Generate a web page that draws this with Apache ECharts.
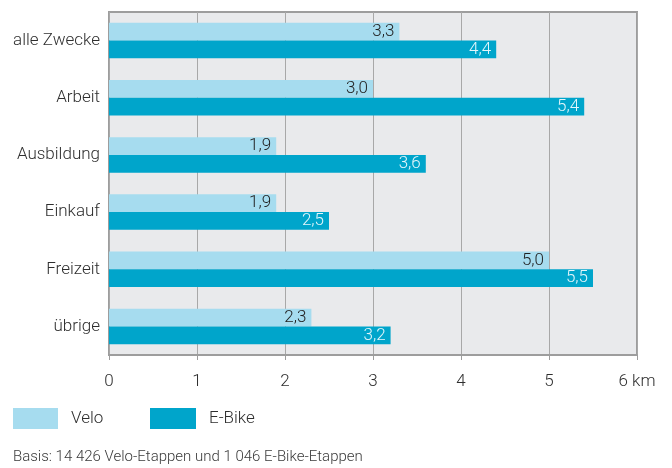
<!DOCTYPE html>
<html>
<head>
<meta charset="utf-8">
<style>
  html, body { margin: 0; padding: 0; background: #ffffff; }
  #chart { width: 672px; height: 468px; }
</style>
<script src="https://cdn.jsdelivr.net/npm/echarts@6/dist/echarts.min.js"></script>
</head>
<body>
<div id="chart"></div>
<script>
// Durchschnittliche Etappenlänge nach Zweck (km)
const categories = ['alle Zwecke', 'Arbeit', 'Ausbildung', 'Einkauf', 'Freizeit', 'übrige'];
const veloValues = [3.3, 3.0, 1.9, 1.9, 5.0, 2.3];
const ebikeValues = [4.4, 5.4, 3.6, 2.5, 5.5, 3.2];
const xTicks = [0, 1, 2, 3, 4, 5, 6];
const seriesNames = ['Velo', 'E-Bike'];
const footnote = 'Basis: 14 426 Velo-Etappen und 1 046 E-Bike-Etappen';

const FONT = 'Roboto, "Noto Sans", sans-serif';
const W = 300;
const TEXT = '#2e2e2e';
const VELO = '#a6dcef';
const EBIKE = '#00a5cb';

const fmt = v => v.toFixed(1).replace('.', ',');

const chart = echarts.init(document.getElementById('chart'), null, { renderer: 'canvas' });

const legendText = { fontFamily: FONT, fontWeight: W, fontSize: 17, color: TEXT, padding: [0, 0, 0, 8] };

chart.setOption({
  animation: false,
  textStyle: { fontFamily: FONT },
  grid: {
    left: 109, top: 12, right: 35, bottom: 113,
    show: true,
    backgroundColor: '#e9eaec',
    borderColor: '#9d9d9d',
    borderWidth: 2
  },
  legend: [
    {
      data: [seriesNames[0]],
      left: 13, top: 408, padding: 0,
      itemWidth: 45, itemHeight: 21,
      icon: 'rect',
      textStyle: legendText
    },
    {
      data: [seriesNames[1]],
      left: 150, top: 408, padding: 0,
      itemWidth: 46, itemHeight: 21,
      icon: 'rect',
      textStyle: legendText
    }
  ],
  xAxis: {
    type: 'value',
    min: xTicks[0],
    max: xTicks[xTicks.length - 1],
    interval: 1,
    axisLine: { show: true, lineStyle: { color: '#9d9d9d', width: 2 } },
    axisTick: { show: true, length: 5, lineStyle: { color: '#9d9d9d', width: 1 } },
    splitLine: { show: true, lineStyle: { color: '#a8a8a8', width: 1 } },
    axisLabel: {
      margin: 18,
      fontFamily: FONT,
      fontWeight: W,
      fontSize: 17,
      color: TEXT,
      formatter: v => (v === xTicks[xTicks.length - 1] ? v + ' km' : String(v))
    }
  },
  yAxis: {
    type: 'category',
    data: categories,
    inverse: true,
    axisLine: { show: false },
    axisTick: { show: false },
    splitLine: { show: false },
    axisLabel: { margin: 9, fontFamily: FONT, fontWeight: W, fontSize: 17, color: TEXT }
  },
  series: [
    {
      name: seriesNames[0],
      type: 'bar',
      data: veloValues,
      itemStyle: { color: VELO },
      barGap: '0%',
      barCategoryGap: '38%',
      label: {
        show: true,
        position: 'insideRight',
        distance: 5,
        fontFamily: FONT,
        fontWeight: W,
        fontSize: 17,
        color: '#222222',
        formatter: p => fmt(p.value)
      }
    },
    {
      name: seriesNames[1],
      type: 'bar',
      data: ebikeValues,
      itemStyle: { color: EBIKE },
      barGap: '0%',
      barCategoryGap: '38%',
      label: {
        show: true,
        position: 'insideRight',
        distance: 5,
        fontFamily: FONT,
        fontWeight: W,
        fontSize: 17,
        color: '#e4f6fb',
        formatter: p => fmt(p.value)
      }
    }
  ],
  graphic: [
    {
      type: 'text',
      left: 13,
      top: 450,
      style: { text: footnote, font: W + ' 15px ' + FONT, fill: '#3a3a3a' }
    }
  ]
});
</script>
</body>
</html>
